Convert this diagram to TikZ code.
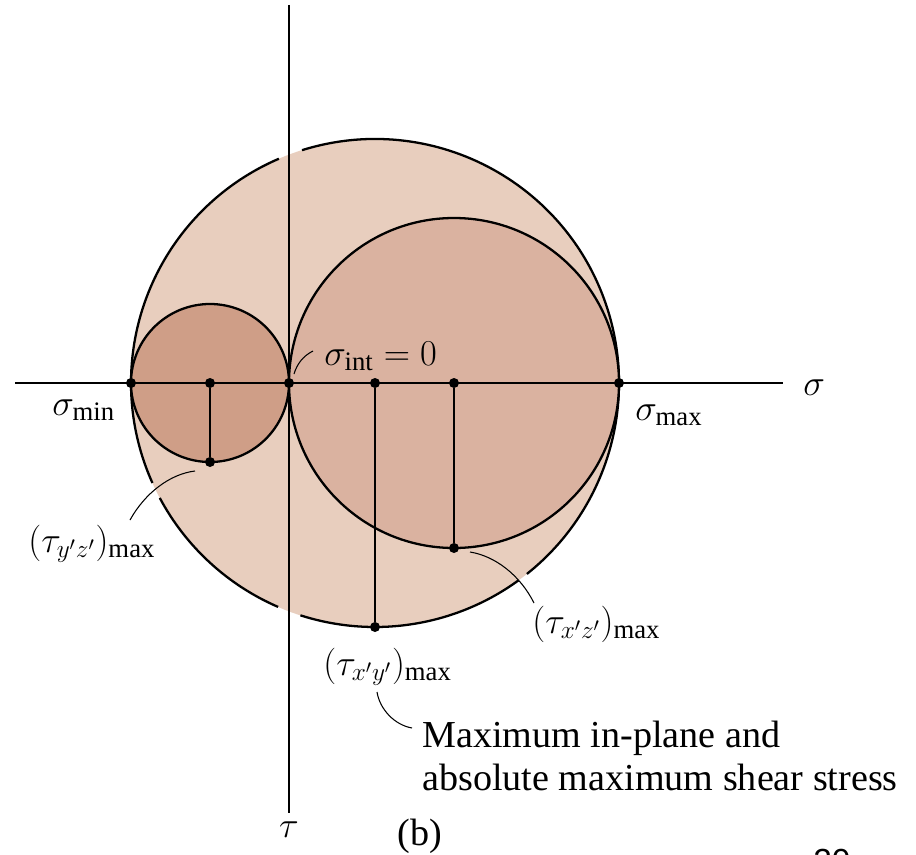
\documentclass[tikz,border=0pt]{standalone}
\usepackage{amsmath}
\usepackage{fontspec}
\setmainfont{Liberation Serif}
\newfontfamily\pagenofont{Liberation Sans}
\usepackage{tikz}
\usetikzlibrary{calc}

\definecolor{bigfill}{RGB}{232,206,190}
\definecolor{midfill}{RGB}{218,178,160}
\definecolor{smallfill}{RGB}{207,158,135}

\begin{document}
\begin{tikzpicture}[x=0.02cm,y=-0.02cm,
  rim/.style={line width=1.3pt},
  axis/.style={line width=1.1pt},
  drop/.style={line width=0.75pt},
  leader/.style={line width=0.6pt},
  dot/.style={circle,fill=black,inner sep=0pt,minimum size=2mm},
  lbl/.style={inner sep=0pt,font=\fontsize{21.7}{24.4}\selectfont}]
\useasboundingbox (0,0) rectangle (916,855);

\coordinate (cbig) at (375,383);
\coordinate (cmid) at (454,383);
\coordinate (csmall) at (210,383);

\fill[bigfill] (cbig) circle[radius=244];
\foreach \a/\b in {-107.4/51.5,54/107.8,113.4/151.9,155.8/246.8}
  \draw[rim] (cbig) ++(\a:244) arc[start angle=\a,end angle=\b,radius=244];

\filldraw[rim,fill=midfill] (cmid) circle[radius=165];
\filldraw[rim,fill=smallfill] (csmall) circle[radius=79];

\coordinate (hl) at (15,383);
\coordinate (hr) at (783,383);
\coordinate (vt) at (289,5);
\coordinate (vb) at (289,813);
\draw[axis] (hl) -- (hr);
\draw[axis] (vt) -- (vb);

\node[dot] (smin) at (131,383) {};
\node[dot] (sint) at (289,383) {};
\node[dot] (smax) at (619,383) {};
\node[dot] (ps) at (csmall) {};
\node[dot] (pb) at (cbig) {};
\node[dot] (pm) at (cmid) {};
\node[dot] (tyz) at (210,462) {};
\node[dot] (txy) at (375,627) {};
\node[dot] (txz) at (454,548) {};

\draw[drop] (ps) -- (tyz);
\draw[drop] (pb) -- (txy);
\draw[drop] (pm) -- (txz);

\node[lbl,anchor=base west] (lsig) at (803,395) {$\sigma$};
\node[lbl,anchor=base] (ltau) at (289,837) {$\tau$};
\node[lbl,anchor=base west] (lmin) at (52,415) {$\sigma_{\mathrm{min}}$};
\node[lbl,anchor=base west] (lmax) at (635,420) {$\sigma_{\mathrm{max}}$};
\node[lbl,anchor=base west] (lint) at (324,365) {$\sigma_{\mathrm{int}} = 0$};
\node[lbl,anchor=base west] (lyz) at (28,552) {$(\tau_{y'z'})_{\mathrm{max}}$};
\node[lbl,anchor=base west] (lxz) at (532,633) {$(\tau_{x'z'})_{\mathrm{max}}$};
\node[lbl,anchor=base west] (lxy) at (323,675) {$(\tau_{x'y'})_{\mathrm{max}}$};
\node[lbl,anchor=base west,align=left] (lnote) at (422,790)
  {Maximum in-plane and\\absolute maximum shear stress};
\node[lbl,anchor=base] (lb) at (420,845) {(b)};

\coordinate (int0) at (294,374);
\coordinate (int1) at (313,351);
\coordinate (yz0) at (195,471);
\coordinate (yz1) at (130,520);
\coordinate (xz0) at (470,552);
\coordinate (xz1) at (534,603);
\coordinate (xy0) at (377,692);
\coordinate (xy1) at (412,728);
\draw[leader] (int0) .. controls (297,364) and (303,356) .. (int1);
\draw[leader] (yz0) .. controls (170,474) and (145,493) .. (yz1);
\draw[leader] (xz0) .. controls (495,556) and (520,575) .. (xz1);
\draw[leader] (xy0) .. controls (380,710) and (395,725) .. (xy1);

\begin{scope}
\clip (0,0) rectangle (916,855);
\node[inner sep=0pt,anchor=base west,font=\pagenofont\fontsize{19}{22}\selectfont]
  (pageno) at (813,872) {20};
\end{scope}
\end{tikzpicture}
\end{document}
